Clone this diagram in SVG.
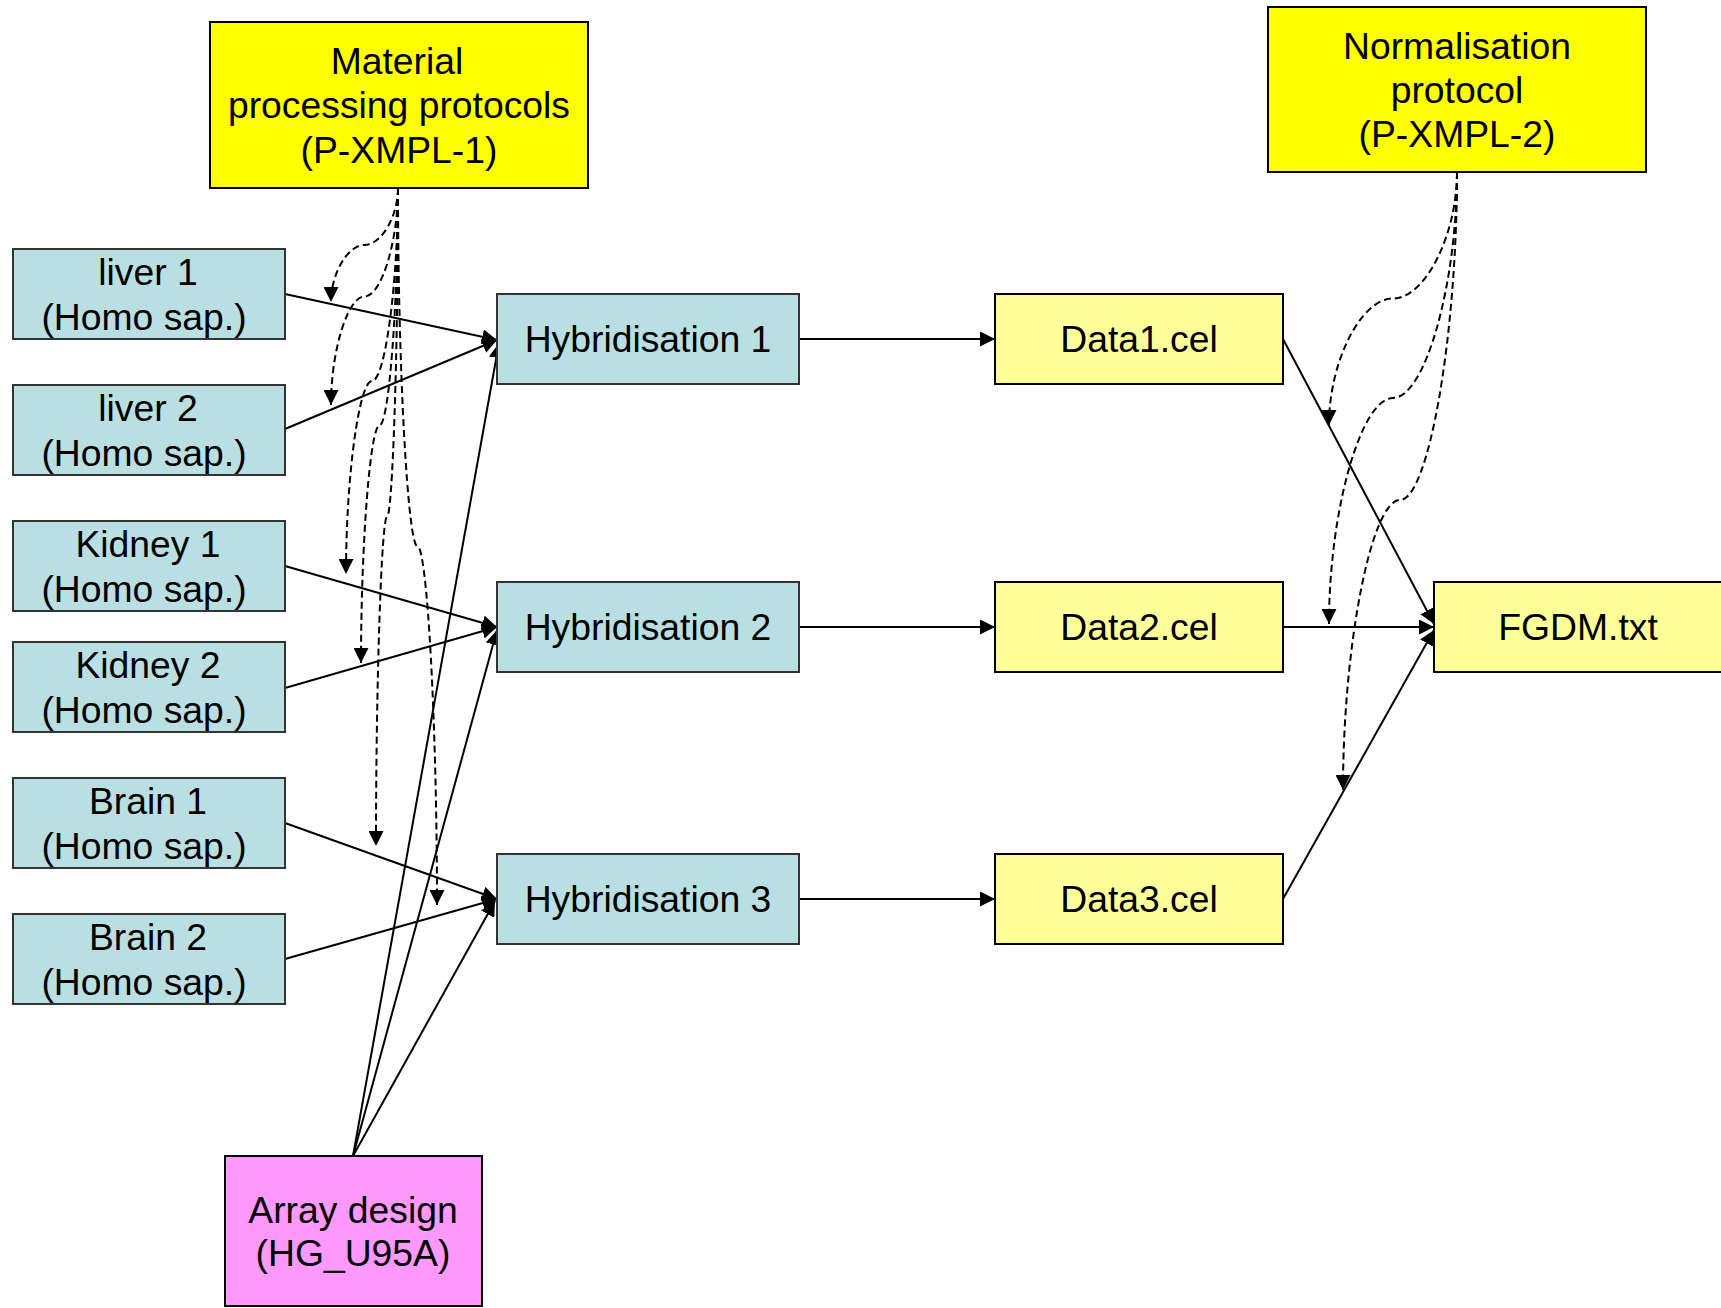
<svg xmlns="http://www.w3.org/2000/svg" width="1721" height="1308" viewBox="0 0 1721 1308">
<style>
text{font-family:"Liberation Sans",Arial,sans-serif;font-size:37.3px;fill:#000;text-anchor:middle}
.bio{fill:#BADFE2;stroke:#333;stroke-width:2}
.prot{fill:#FFFF00;stroke:#000;stroke-width:2}
.data{fill:#FFFF99;stroke:#000;stroke-width:2}
.arr{fill:#FF99FF;stroke:#000;stroke-width:2}
.c{fill:none;stroke:#000;stroke-width:2;marker-end:url(#ah)}
.d{fill:none;stroke:#000;stroke-width:2;stroke-dasharray:7 4;marker-end:url(#ah)}
</style>
<defs>
<marker id="ah" markerUnits="userSpaceOnUse" markerWidth="15" markerHeight="15" refX="15" refY="7.5" orient="auto">
<path d="M0,0 L15,7.5 L0,15 z" fill="#000"/>
</marker>
</defs>
<rect width="1721" height="1308" fill="#fff"/>
<g id="connectors">
<path class="c" d="M285,294 L497,340"/>
<path class="c" d="M285,429 L497,340"/>
<path class="c" d="M285,566 L497,627"/>
<path class="c" d="M285,688 L497,627"/>
<path class="c" d="M285,823 L497,899"/>
<path class="c" d="M285,959 L497,899"/>
<path class="c" d="M353,1156 L499,343"/>
<path class="c" d="M353,1156 L497,630"/>
<path class="c" d="M353,1156 L495,901"/>
<path class="c" d="M799,339 L995,339"/>
<path class="c" d="M799,627 L995,627"/>
<path class="c" d="M799,899 L995,899"/>
<path class="c" d="M1283,339 L1434,624"/>
<path class="c" d="M1283,627 L1434,627"/>
<path class="c" d="M1283,899 L1434,630"/>
<path class="d" d="M398,188 C398,216.5 381.25,245 364.5,245 C347.75,245 331,273.5 331,302"/>
<path class="d" d="M398,188 C398,242.25 381.25,296.5 364.5,296.5 C347.75,296.5 331,350.75 331,405"/>
<path class="d" d="M398,188 C398,284.5 385,381 372,381 C359,381 346,477.5 346,574"/>
<path class="d" d="M398,188 C398,306.75 388.75,425.5 379.5,425.5 C370.25,425.5 361,544.25 361,663"/>
<path class="d" d="M398,188 C398,352.5 392.5,517 387,517 C381.5,517 376,681.5 376,846"/>
<path class="d" d="M398,188 C398,367.25 407.75,546.5 417.5,546.5 C427.25,546.5 437,725.75 437,905"/>
<path class="d" d="M1457,172 C1457,235.25 1425,298.5 1393,298.5 C1361,298.5 1329,361.75 1329,425"/>
<path class="d" d="M1457,172 C1457,285 1425,398 1393,398 C1361,398 1329,511 1329,624"/>
<path class="d" d="M1457,172 C1457,336 1428.5,500 1400,500 C1371.5,500 1343,645 1343,790"/>
</g>
<g id="material">
<rect class="prot" x="210" y="22" width="378" height="166"/>
<text x="397" y="74">Material</text>
<text x="399" y="118">processing protocols</text>
<text x="399" y="163">(P-XMPL-1)</text>
</g>
<g id="normalisation">
<rect class="prot" x="1268" y="7" width="378" height="165"/>
<text x="1457" y="59">Normalisation</text>
<text x="1457" y="103">protocol</text>
<text x="1457" y="147">(P-XMPL-2)</text>
</g>
<g id="liver1">
<rect class="bio" x="13" y="249" width="272" height="90"/>
<text x="148" y="285">liver 1</text>
<text x="144" y="330">(Homo sap.)</text>
</g>
<g id="liver2">
<rect class="bio" x="13" y="385" width="272" height="90"/>
<text x="148" y="421">liver 2</text>
<text x="144" y="466">(Homo sap.)</text>
</g>
<g id="kidney1">
<rect class="bio" x="13" y="521" width="272" height="90"/>
<text x="148" y="557">Kidney 1</text>
<text x="144" y="602">(Homo sap.)</text>
</g>
<g id="kidney2">
<rect class="bio" x="13" y="642" width="272" height="90"/>
<text x="148" y="678">Kidney 2</text>
<text x="144" y="723">(Homo sap.)</text>
</g>
<g id="brain1">
<rect class="bio" x="13" y="778" width="272" height="90"/>
<text x="148" y="814">Brain 1</text>
<text x="144" y="859">(Homo sap.)</text>
</g>
<g id="brain2">
<rect class="bio" x="13" y="914" width="272" height="90"/>
<text x="148" y="950">Brain 2</text>
<text x="144" y="995">(Homo sap.)</text>
</g>
<g id="hyb1">
<rect class="bio" x="497" y="294" width="302" height="90"/>
<text x="648" y="352">Hybridisation 1</text>
</g>
<g id="hyb2">
<rect class="bio" x="497" y="582" width="302" height="90"/>
<text x="648" y="640">Hybridisation 2</text>
</g>
<g id="hyb3">
<rect class="bio" x="497" y="854" width="302" height="90"/>
<text x="648" y="912">Hybridisation 3</text>
</g>
<g id="data1">
<rect class="data" x="995" y="294" width="288" height="90"/>
<text x="1139" y="352">Data1.cel</text>
</g>
<g id="data2">
<rect class="data" x="995" y="582" width="288" height="90"/>
<text x="1139" y="640">Data2.cel</text>
</g>
<g id="data3">
<rect class="data" x="995" y="854" width="288" height="90"/>
<text x="1139" y="912">Data3.cel</text>
</g>
<g id="fgdm">
<rect class="data" x="1434" y="582" width="290" height="90"/>
<text x="1578" y="640">FGDM.txt</text>
</g>
<g id="arraydesign">
<rect class="arr" x="225" y="1156" width="257" height="150"/>
<text x="353" y="1223">Array design</text>
<text x="353" y="1266">(HG_U95A)</text>
</g>
</svg>
